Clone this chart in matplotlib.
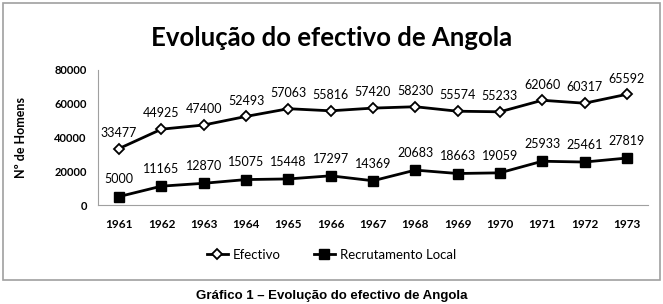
import matplotlib
matplotlib.use("Agg")
import matplotlib.pyplot as plt
from matplotlib.patches import Rectangle

years = ["1961", "1962", "1963", "1964", "1965", "1966", "1967", "1968", "1969", "1970", "1971", "1972", "1973"]
efectivo = [33477, 44925, 47400, 52493, 57063, 55816, 57420, 58230, 55574, 55233, 62060, 60317, 65592]
recrutamento = [5000, 11165, 12870, 15075, 15448, 17297, 14369, 20683, 18663, 19059, 25933, 25461, 27819]
yticks = [0, 20000, 40000, 60000, 80000]

W, H = 663, 304
fig = plt.figure(figsize=(W / 100, H / 100), dpi=100)
fig.patch.set_facecolor("white")
font = ["Lato", "DejaVu Sans"]

# outer chart border
fig.patches.append(Rectangle((3 / W, 1 - 280 / H), 657 / W, 277 / H, transform=fig.transFigure,
                             fill=False, edgecolor="#a0a0a0", linewidth=1.2))

ax = fig.add_axes([98 / W, 1 - 205 / H, 550 / W, 135 / H])
x = list(range(len(years)))
ax.plot(x, efectivo, color="black", lw=2, marker="D", markersize=5,
        markerfacecolor="white", markeredgecolor="black", markeredgewidth=1.3, label="Efectivo")
ax.plot(x, recrutamento, color="black", lw=2, marker="s", markersize=7,
        markerfacecolor="black", label="Recrutamento Local")

for xi, v in zip(x, efectivo):
    ax.annotate(str(v), (xi, v), xytext=(0, 7), textcoords="offset points",
                ha="center", va="bottom", fontsize=9, family=font)
for xi, v in zip(x, recrutamento):
    ax.annotate(str(v), (xi, v), xytext=(0, 8), textcoords="offset points",
                ha="center", va="bottom", fontsize=9, family=font)

ax.set_xlim(-0.5, len(years) - 0.5)
ax.set_ylim(0, 80000)
ax.set_yticks(yticks)
ax.set_yticklabels([str(t) for t in yticks], fontsize=8, fontweight="bold", family=font)
ax.set_xticks(x)
ax.set_xticklabels(years, fontsize=8.5, fontweight="bold", family=font)
ax.tick_params(axis="both", length=0, pad=8)
ax.tick_params(axis="x", pad=10)
for s in ["top", "right"]:
    ax.spines[s].set_visible(False)
for s in ["left", "bottom"]:
    ax.spines[s].set_color("#a0a0a0")
    ax.spines[s].set_linewidth(0.8)
ax.set_ylabel("Nº de Homens", fontsize=9, fontweight="bold", family=font, labelpad=20)

fig.text(0.5, 1 - 38 / H, "Evolução do efectivo de Angola", ha="center", va="center",
         fontsize=18.5, fontweight="bold", family=font)

leg = fig.legend(loc="center", bbox_to_anchor=(0.5, 1 - 255 / H), ncol=2, frameon=False,
                 prop={"family": font, "size": 9.5}, handlelength=1.6, columnspacing=2.5,
                 handletextpad=0.4)

fig.text(0.5, 1 - 296 / H, "Gráfico 1 – Evolução do efectivo de Angola", ha="center", va="center",
         fontsize=9.5, fontweight="bold", family=["Liberation Sans", "DejaVu Sans"])

fig.savefig("out.png", dpi=100)
